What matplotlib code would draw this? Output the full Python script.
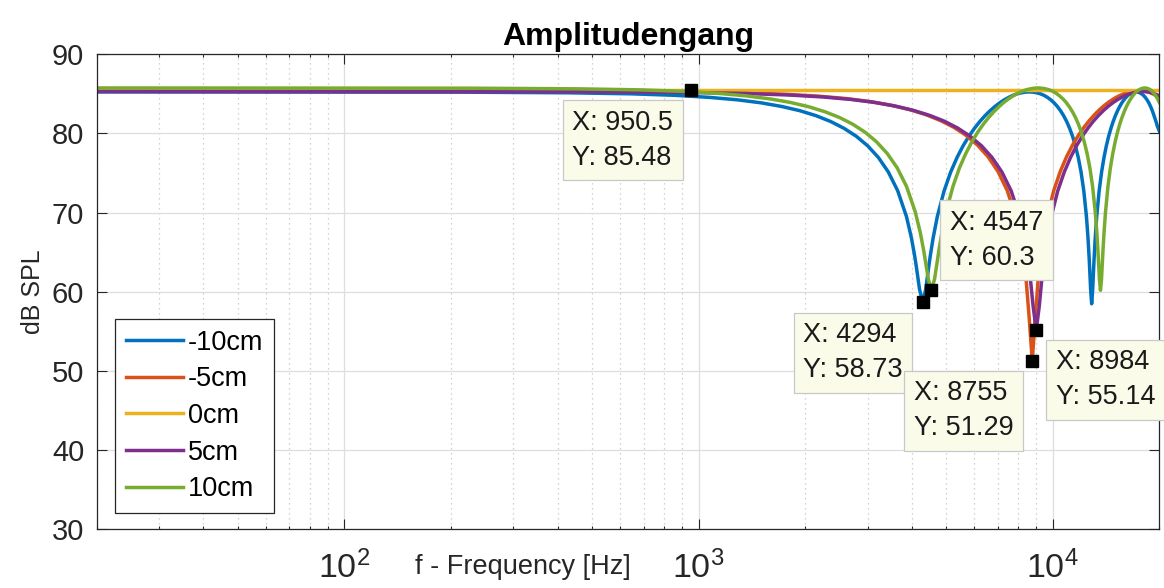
import numpy as np
import matplotlib
matplotlib.use('Agg')
import matplotlib.pyplot as plt
from matplotlib.ticker import FixedLocator, FuncFormatter, LogLocator, NullFormatter

# ---------------- data ----------------
labels = ['-10cm', '-5cm', '0cm', '5cm', '10cm']

f_m10 = [20, 215, 429, 644, 859, 1074, 1288, 1503, 1718, 1932, 2147, 2362, 2576, 2791, 3006, 3221, 3435, 3650,
         3865, 3993, 4079, 4122, 4208, 4294,
         4380, 4466, 4509, 4595, 4723, 4938, 5153, 5368, 5582, 5797, 6012, 6226, 6441, 6656, 6870, 7085, 7300,
         7515, 7729, 7944, 8159, 8373, 8588,
         8803, 9017, 9232, 9447, 9662, 9876, 10091, 10306, 10520, 10735, 10950, 11164, 11379, 11594, 11809, 12023,
         12238, 12453, 12581, 12667, 12710, 12796, 12882,
         12968, 13054, 13097, 13183, 13311, 13526, 13741, 13956, 14170, 14385, 14600, 14814, 15029, 15244, 15458,
         15673, 15888, 16103, 16317, 16532, 16747, 16961, 17176,
         17391, 17605, 17820, 18035, 18250, 18464, 18679, 18894, 19108, 19323, 19538, 19752, 20000]
db_m10 = [85.25, 85.22, 85.14, 85.01, 84.82, 84.56, 84.25, 83.87, 83.41, 82.88, 82.25, 81.51, 80.65, 79.64, 78.43,
          76.96, 75.14, 72.78, 69.51, 66.78, 64.47, 63.15, 60.31, 58.73,
          60.31, 63.15, 64.47, 66.78, 69.51, 72.78, 75.14, 76.96, 78.43, 79.64, 80.65, 81.51, 82.25, 82.88, 83.41,
          83.87, 84.25, 84.56, 84.82, 85.01, 85.14, 85.22, 85.25,
          85.22, 85.14, 85.01, 84.82, 84.56, 84.25, 83.87, 83.41, 82.88, 82.25, 81.51, 80.65, 79.64, 78.43, 76.96,
          75.14, 72.78, 69.51, 66.78, 64.47, 63.15, 60.31, 58.50,
          60.31, 63.15, 64.47, 66.78, 69.51, 72.78, 75.14, 76.96, 78.43, 79.64, 80.65, 81.51, 82.25, 82.88, 83.41,
          83.87, 84.25, 84.56, 84.82, 85.01, 85.14, 85.22, 85.25,
          85.22, 85.14, 85.01, 84.82, 84.56, 84.25, 83.87, 83.41, 82.88, 82.25, 81.60, 80.90, 80.30]

f_m5 = [20, 438, 876, 1313, 1751, 2189, 2627, 3064, 3502, 3940, 4378, 4815, 5253, 5691, 6129, 6566, 7004, 7442,
        7880, 8142, 8317, 8405, 8580, 8755,
        8930, 9105, 9193, 9368, 9631, 10068, 10506, 10944, 11382, 11819, 12257, 12695, 13133, 13570, 14008, 14446,
        14884, 15321, 15759, 16197, 16635, 17072, 17510,
        17948, 18386, 18823, 19261, 19699, 20000]
db_m5 = [85.40, 85.37, 85.29, 85.16, 84.96, 84.71, 84.40, 84.02, 83.56, 83.02, 82.39, 81.65, 80.79, 79.77, 78.55,
         77.07, 75.22, 72.79, 69.35, 66.34, 63.56, 61.78, 56.80, 51.29,
         56.80, 61.78, 63.56, 66.34, 69.35, 72.79, 75.22, 77.07, 78.55, 79.77, 80.79, 81.65, 82.39, 83.02, 83.56,
         84.02, 84.40, 84.71, 84.96, 85.16, 85.29, 85.37, 85.40,
         85.37, 85.29, 85.16, 84.96, 84.71, 84.50]

f_0 = [20, 20000]
db_0 = [85.48, 85.48]

f_p5 = [20, 449, 898, 1348, 1797, 2246, 2695, 3144, 3594, 4043, 4492, 4941, 5390, 5840, 6289, 6738, 7187, 7636,
        8086, 8355, 8535, 8625, 8804, 8984,
        9164, 9343, 9433, 9613, 9882, 10332, 10781, 11230, 11679, 12128, 12578, 13027, 13476, 13925, 14374, 14824,
        15273, 15722, 16171, 16620, 17070, 17519, 17968,
        18417, 18866, 19316, 19765, 20000]
db_p5 = [85.30, 85.27, 85.19, 85.06, 84.86, 84.61, 84.30, 83.92, 83.46, 82.92, 82.29, 81.56, 80.69, 79.67, 78.46,
         76.98, 75.14, 72.74, 69.35, 66.44, 63.81, 62.19, 58.20, 55.14,
         58.20, 62.19, 63.81, 66.44, 69.35, 72.74, 75.14, 76.98, 78.46, 79.67, 80.69, 81.56, 82.29, 82.92, 83.46,
         83.92, 84.30, 84.61, 84.86, 85.06, 85.19, 85.27, 85.30,
         85.27, 85.19, 85.06, 84.86, 84.74]

f_p10 = [20, 227, 455, 682, 909, 1137, 1364, 1591, 1819, 2046, 2274, 2501, 2728, 2956, 3183, 3410, 3638, 3865,
         4092, 4229, 4320, 4365, 4456, 4547,
         4638, 4729, 4774, 4865, 5002, 5229, 5456, 5684, 5911, 6138, 6366, 6593, 6821, 7048, 7275, 7503, 7730,
         7957, 8185, 8412, 8639, 8867, 9094,
         9321, 9549, 9776, 10003, 10231, 10458, 10685, 10913, 11140, 11368, 11595, 11822, 12050, 12277, 12504,
         12732, 12959, 13186, 13323, 13414, 13459, 13550, 13641,
         13732, 13823, 13868, 13959, 14096, 14323, 14550, 14778, 15005, 15232, 15460, 15687, 15915, 16142, 16369,
         16597, 16824, 17051, 17279, 17506, 17733, 17961, 18188,
         18415, 18643, 18870, 19097, 19325, 19552, 19779, 20000]
db_p10 = [85.75, 85.72, 85.64, 85.51, 85.32, 85.07, 84.75, 84.37, 83.92, 83.38, 82.75, 82.02, 81.16, 80.15, 78.94,
          77.48, 75.67, 73.33, 70.10, 67.47, 65.29, 64.07, 61.58, 60.30,
          61.58, 64.07, 65.29, 67.47, 70.10, 73.33, 75.67, 77.48, 78.94, 80.15, 81.16, 82.02, 82.75, 83.38, 83.92,
          84.37, 84.75, 85.07, 85.32, 85.51, 85.64, 85.72, 85.75,
          85.72, 85.64, 85.51, 85.32, 85.07, 84.75, 84.37, 83.92, 83.38, 82.75, 82.02, 81.16, 80.15, 78.94, 77.48,
          75.67, 73.33, 70.10, 67.47, 65.29, 64.07, 61.58, 60.20,
          61.58, 64.07, 65.29, 67.47, 70.10, 73.33, 75.67, 77.48, 78.94, 80.15, 81.16, 82.02, 82.75, 83.38, 83.92,
          84.37, 84.75, 85.07, 85.32, 85.51, 85.64, 85.72, 85.75,
          85.72, 85.64, 85.51, 85.32, 85.07, 84.75, 84.37, 83.93]

tip_x = [950.5, 4294, 4547, 8755, 8984]
tip_y = [85.48, 58.73, 60.3, 51.29, 55.14]

x_ticks = [100, 1000, 10000]
y_ticks = [30, 40, 50, 60, 70, 80, 90]

# ---------------- styling ----------------
plt.rcParams['font.family'] = ['Liberation Sans', 'DejaVu Sans']
plt.rcParams['mathtext.fontset'] = 'custom'
plt.rcParams['mathtext.rm'] = 'Liberation Sans'
plt.rcParams['mathtext.it'] = 'Liberation Sans'

colors = ['#0072BD', '#D95319', '#EDB120', '#7E2F8E', '#77AC30']
axcol = '#262626'

fig = plt.figure(figsize=(11.64, 5.88), dpi=100)
ax = fig.add_axes([0.0831, 0.0995, 0.91289, 0.80816])

series = [(f_m10, db_m10), (f_m5, db_m5), (f_0, db_0), (f_p5, db_p5), (f_p10, db_p10)]
for (fx, dy), c, lab in zip(series, colors, labels):
    ax.plot(fx, dy, color=c, lw=2.5, label=lab, solid_joinstyle='round')

ax.set_xscale('log')
ax.set_xlim(20, 20000)
ax.set_ylim(30, 90)
ax.xaxis.set_major_locator(FixedLocator(x_ticks))
ax.xaxis.set_major_formatter(FuncFormatter(lambda v, _: r'$\mathregular{10^{%d}}$' % int(round(np.log10(v)))))
ax.xaxis.set_minor_locator(LogLocator(base=10, subs=range(2, 10), numticks=20))
ax.xaxis.set_minor_formatter(NullFormatter())
ax.set_yticks(y_ticks)

ax.set_axisbelow(True)
ax.grid(which='major', color='#DEDEDE', lw=0.9, ls='-')
ax.grid(which='minor', axis='x', color='#C4C4C4', lw=0.9, ls=(0, (1, 3)))

ax.tick_params(which='both', direction='in', top=True, right=True, colors=axcol, width=0.8)
ax.tick_params(which='major', length=7)
ax.tick_params(which='minor', length=2.5)
ax.tick_params(axis='y', labelsize=21, pad=9)
ax.tick_params(axis='x', labelsize=24.5, pad=15)
for sp in ax.spines.values():
    sp.set_color(axcol)
    sp.set_linewidth(0.9)

ax.set_title('Amplitudengang', fontsize=23, fontweight='bold', pad=7, color='black')
ax.set_ylabel('dB SPL', fontsize=18, color=axcol)
ax.yaxis.set_label_coords(-0.060, 0.5)
ax.yaxis.label.set_va('center')
ax.set_xlabel('f - Frequency [Hz]', fontsize=19.5, color=axcol)
ax.xaxis.set_label_coords(0.401, -0.079)
ax.xaxis.label.set_va('center')

leg = ax.legend(loc='upper left', bbox_to_anchor=(0.0172, 0.443), fontsize=19.5,
                frameon=True, fancybox=False, framealpha=1, edgecolor=axcol,
                handlelength=2.1, handletextpad=0.2, labelspacing=0.39,
                borderpad=0.4, borderaxespad=0)
leg.get_frame().set_linewidth(0.9)

# data tips
ax.plot(tip_x, tip_y, ls='none', marker='s', ms=8.5, color='black', zorder=6)
tip_layout = [((-118.5, -19.5), 'left', 'top'),
              ((-19.7, -20.5), 'right', 'top'),
              ((18.5, 19.0), 'left', 'bottom'),
              ((-18.7, -19.6), 'right', 'top'),
              ((19.3, -19.1), 'left', 'top')]
for tx, ty, (off, ha, va) in zip(tip_x, tip_y, tip_layout):
    ax.annotate('X: {:.4g}\nY: {:.4g}'.format(tx, ty), xy=(tx, ty), xytext=off,
                textcoords='offset pixels', ha=ha, va=va, fontsize=19.5, color='#1A1A1A',
                linespacing=1.45, multialignment='left', annotation_clip=False, zorder=7,
                bbox=dict(boxstyle='square,pad=0.35', fc='#FBFBE9', ec='#C8C8C8', lw=0.9))

fig.savefig('out.png', dpi=100)
